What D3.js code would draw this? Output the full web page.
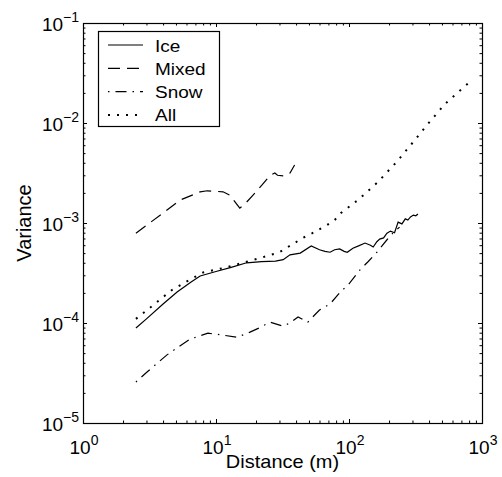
<!DOCTYPE html>
<html>
<head>
<meta charset="utf-8">
<script src="https://cdn.jsdelivr.net/npm/d3@7"></script>
<style>
  html, body { margin: 0; padding: 0; background: #fff; }
  text { font-family: "Liberation Sans", Arial, Helvetica, sans-serif; fill: #000; }
</style>
</head>
<body>
<div id="chart"></div>
<script>
// Ice
const iceDist = [2.5, 3, 4, 5.1, 6.5, 7.6, 10, 13, 17, 22, 28, 32, 36, 43, 52, 60, 66, 72, 78, 85, 92, 97, 107, 118, 132, 145, 152, 162, 170, 182, 193, 205, 220, 234, 250, 265, 277, 290, 305, 318, 330];
const iceVar = [8.9e-5, 1.1e-4, 1.55e-4, 2.04e-4, 2.57e-4, 2.95e-4, 3.27e-4, 3.6e-4, 4.0e-4, 4.1e-4, 4.15e-4, 4.3e-4, 4.8e-4, 5.0e-4, 5.9e-4, 5.4e-4, 5.2e-4, 5.1e-4, 5.4e-4, 5.5e-4, 5.2e-4, 5.1e-4, 5.6e-4, 5.9e-4, 6.3e-4, 6.0e-4, 5.75e-4, 6.5e-4, 6.9e-4, 7.1e-4, 7.9e-4, 8.3e-4, 8.0e-4, 1.02e-3, 9.8e-4, 1.1e-3, 1.07e-3, 1.15e-3, 1.2e-3, 1.18e-3, 1.23e-3];

// Mixed
const mixedDist = [2.5, 4.0, 5.4, 7.6, 8.6, 11.3, 12.7, 15.1, 16.5, 19, 22.2, 25.5, 27.7, 29, 33, 36, 39];
const mixedVar = [7.9e-4, 1.26e-3, 1.7e-3, 2.05e-3, 2.1e-3, 2.05e-3, 1.9e-3, 1.41e-3, 1.55e-3, 1.9e-3, 2.4e-3, 3.0e-3, 3.16e-3, 3.0e-3, 2.95e-3, 3.16e-3, 3.8e-3];

// Snow
const snowDist = [2.5, 3, 4.28, 5.2, 6.4, 8.7, 11, 14.4, 18, 21, 25.5, 31.8, 36, 41.4, 49, 60, 72, 85, 101, 121, 139, 162, 193, 215, 240];
const snowVar = [2.57e-5, 3.2e-5, 4.8e-5, 5.75e-5, 6.9e-5, 7.9e-5, 7.6e-5, 7.2e-5, 8.1e-5, 8.9e-5, 1.02e-4, 9.3e-5, 1.0e-4, 1.15e-4, 1.02e-4, 1.35e-4, 1.55e-4, 2.0e-4, 2.5e-4, 3.4e-4, 4.1e-4, 5.1e-4, 6.8e-4, 8.0e-4, 9.1e-4];

// All
const allDist = [2.5, 3, 4.66, 6, 8, 12, 17, 22, 30, 45, 53, 68, 78, 87, 117, 165, 229, 308, 392, 527, 680, 855];
const allVar = [1.1e-4, 1.33e-4, 2.14e-4, 2.6e-4, 3.2e-4, 3.6e-4, 4.1e-4, 4.5e-4, 5.1e-4, 7.1e-4, 7.9e-4, 9.5e-4, 1.07e-3, 1.26e-3, 1.7e-3, 2.57e-3, 4.1e-3, 6.6e-3, 9.8e-3, 1.55e-2, 2.1e-2, 2.75e-2];

const seriesNames = ["Ice", "Mixed", "Snow", "All"];

// Tick labels (base 10 with exponent)
const xTickValues = [1, 10, 100, 1000];
const xTickExps = ["0", "1", "2", "3"];
const yTickValues = [1e-5, 1e-4, 1e-3, 1e-2, 1e-1];
const yTickExps = ["\u22125", "\u22124", "\u22123", "\u22122", "\u22121"];

const width = 502, height = 477;
const plot = { left: 83, right: 482, top: 23, bottom: 423 };

const svg = d3.select("#chart").append("svg")
    .attr("width", width)
    .attr("height", height);

const x = d3.scaleLog().domain([1, 1000]).range([plot.left, plot.right]);
const y = d3.scaleLog().domain([1e-5, 1e-1]).range([plot.bottom, plot.top]);

// dash styles per series (MATLAB style)
const dashes = {
    Ice: null,
    Mixed: "12,7",
    Snow: "1.5,6,11,6",
    All: "2,7"
};
const widths = { Ice: 1.2, Mixed: 1.2, Snow: 1.2, All: 2 };

const seriesData = {
    Ice: d3.zip(iceDist, iceVar),
    Mixed: d3.zip(mixedDist, mixedVar),
    Snow: d3.zip(snowDist, snowVar),
    All: d3.zip(allDist, allVar)
};

// ticks: majors are powers of ten, the rest minor
const isMajor = v => Math.abs(Math.log10(v) - Math.round(Math.log10(v))) < 1e-9;
const xMinor = x.ticks().filter(v => !isMajor(v));
const yMinor = y.ticks().filter(v => !isMajor(v));

function tickGroup(axis, transform, values, size) {
    svg.append("g")
        .attr("transform", transform)
        .call(axis.tickValues(values).tickSize(size).tickSizeOuter(0).tickFormat(""))
        .call(g => g.select(".domain").remove())
        .call(g => g.selectAll("line").attr("stroke", "#000").attr("stroke-width", 1));
}

tickGroup(d3.axisBottom(x), `translate(0,${plot.bottom})`, xTickValues, -4);
tickGroup(d3.axisBottom(x), `translate(0,${plot.bottom})`, xMinor, -2.5);
tickGroup(d3.axisTop(x), `translate(0,${plot.top})`, xTickValues, -4);
tickGroup(d3.axisTop(x), `translate(0,${plot.top})`, xMinor, -2.5);
tickGroup(d3.axisLeft(y), `translate(${plot.left},0)`, yTickValues, -4);
tickGroup(d3.axisLeft(y), `translate(${plot.left},0)`, yMinor, -2.5);
tickGroup(d3.axisRight(y), `translate(${plot.right},0)`, yTickValues, -4);
tickGroup(d3.axisRight(y), `translate(${plot.right},0)`, yMinor, -2.5);

// frame
svg.append("rect")
    .attr("x", plot.left + 0.5)
    .attr("y", plot.top + 0.5)
    .attr("width", plot.right - plot.left)
    .attr("height", plot.bottom - plot.top)
    .attr("fill", "none")
    .attr("stroke", "#000")
    .attr("stroke-width", 1.2);

// tick labels
xTickValues.forEach((v, i) => {
    const t = svg.append("text")
        .attr("x", x(v) + 1)
        .attr("y", 454)
        .attr("text-anchor", "middle")
        .style("font-size", "19px");
    t.append("tspan").text("10");
    t.append("tspan").attr("dy", -9).style("font-size", "14px").text(xTickExps[i]);
});

yTickValues.forEach((v, i) => {
    const t = svg.append("text")
        .attr("x", 79)
        .attr("y", y(v) + 8)
        .attr("text-anchor", "end")
        .style("font-size", "19px");
    t.append("tspan").text("10");
    t.append("tspan").attr("dy", -9).style("font-size", "14px").text(yTickExps[i]);
});

// axis titles
svg.append("text")
    .attr("transform", `translate(${(plot.left + plot.right) / 2},468) scale(1,0.9)`)
    .attr("text-anchor", "middle")
    .style("font-size", "20px")
    .text("Distance (m)");

svg.append("text")
    .attr("transform", `translate(31,${(plot.top + plot.bottom) / 2}) rotate(-90)`)
    .attr("text-anchor", "middle")
    .style("font-size", "20px")
    .text("Variance");

// curves
const line = d3.line()
    .x(d => x(d[0]))
    .y(d => y(d[1]));

seriesNames.forEach(name => {
    svg.append("path")
        .datum(seriesData[name])
        .attr("d", line)
        .attr("fill", "none")
        .attr("stroke", "#000")
        .attr("stroke-width", widths[name])
        .attr("stroke-dasharray", dashes[name]);
});

// legend
const legend = svg.append("g");
legend.append("rect")
    .attr("x", 98.5)
    .attr("y", 31.5)
    .attr("width", 121)
    .attr("height", 95)
    .attr("fill", "#fff")
    .attr("stroke", "#000")
    .attr("stroke-width", 1.2);

seriesNames.forEach((name, i) => {
    const cy = 45 + i * 23.3;
    legend.append("line")
        .attr("x1", 108).attr("x2", 143)
        .attr("y1", cy).attr("y2", cy)
        .attr("stroke", "#000")
        .attr("stroke-width", widths[name])
        .attr("stroke-dasharray", dashes[name]);
    legend.append("text")
        .attr("transform", `translate(155,${cy + 6.5}) scale(1,0.9)`)
        .style("font-size", "19px")
        .text(name);
});
</script>
</body>
</html>
